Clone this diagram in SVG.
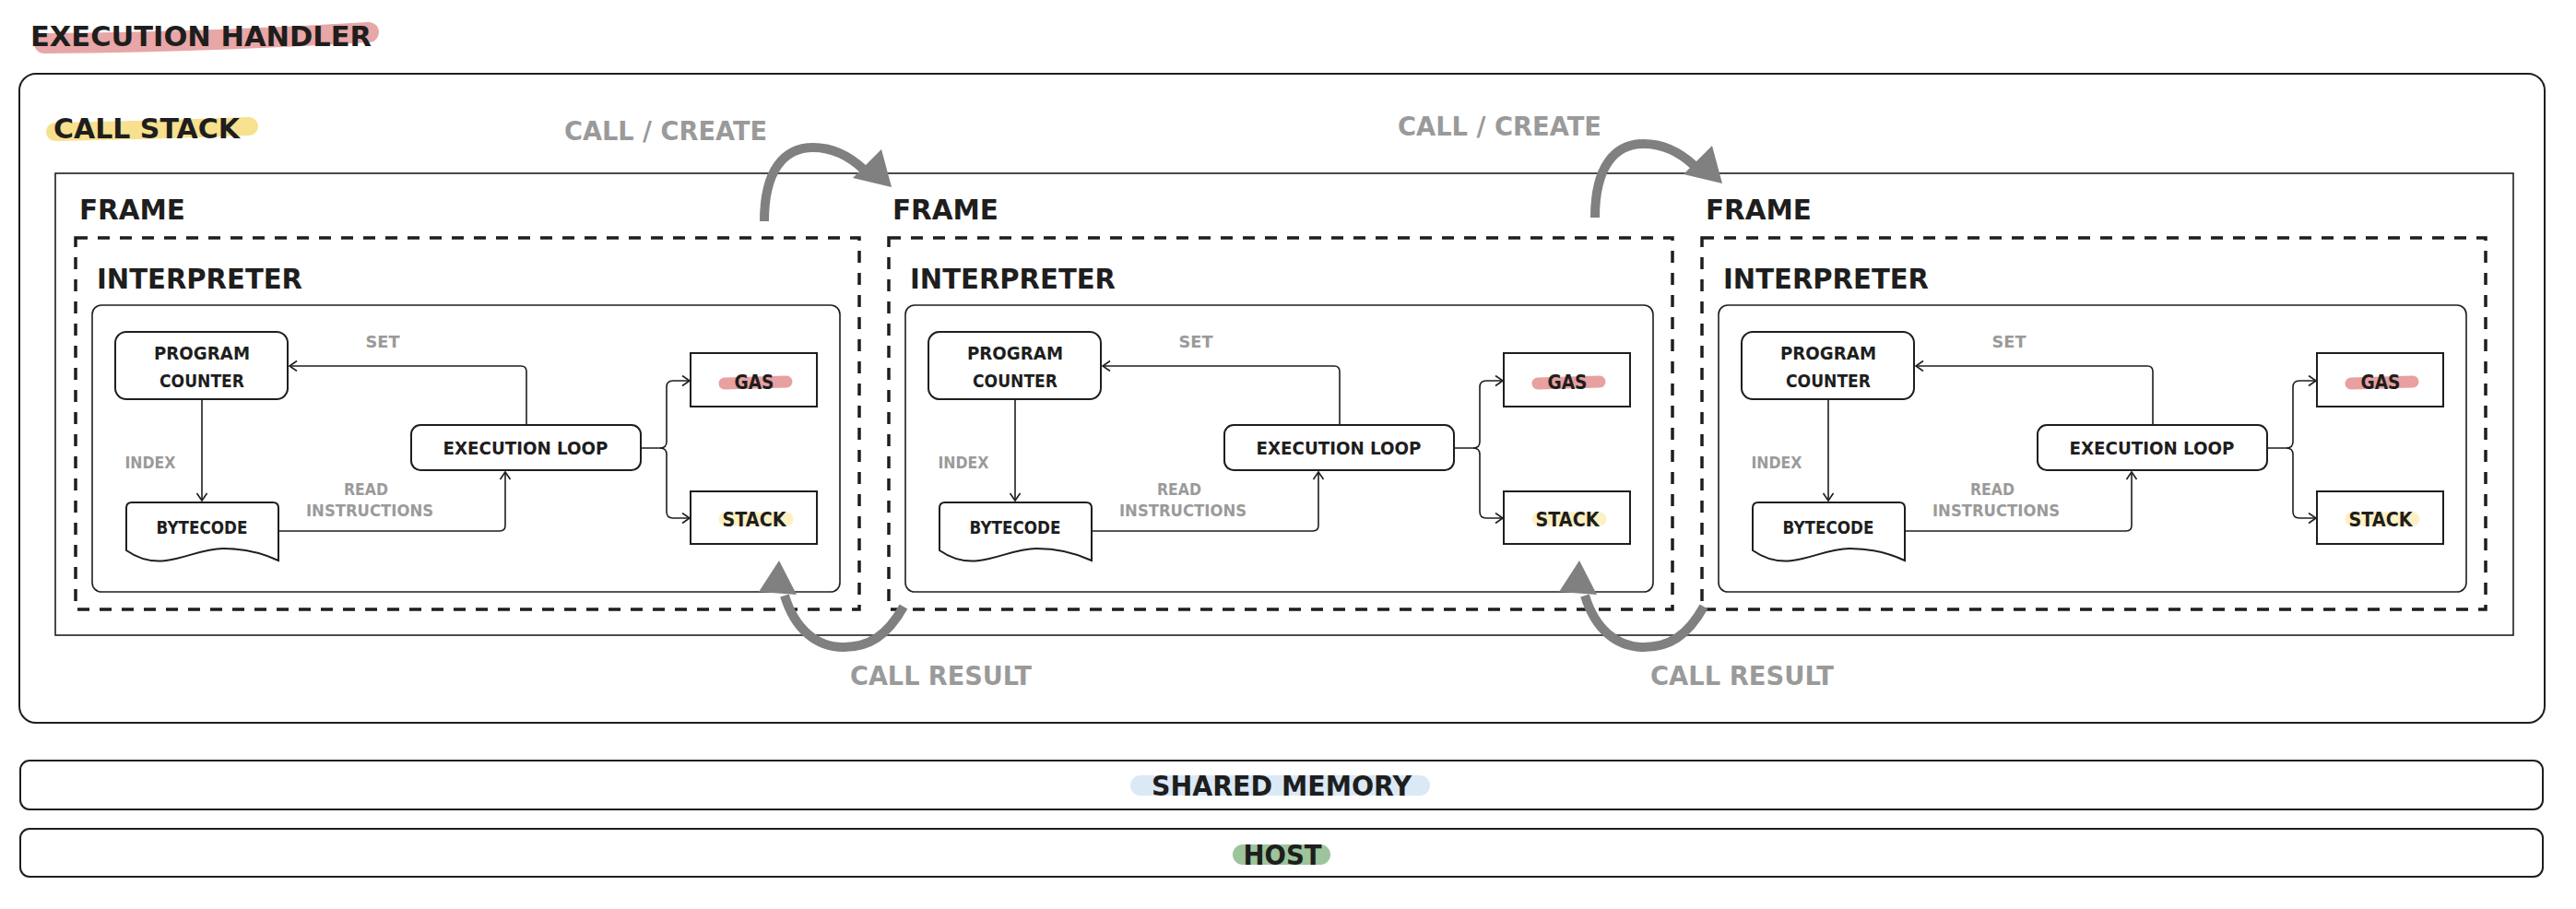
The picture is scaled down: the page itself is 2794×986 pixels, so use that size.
<svg xmlns="http://www.w3.org/2000/svg" width="2794" height="986" viewBox="0 0 2794 986">
<defs>
<style>
.t{font-family:'DejaVu Sans','Liberation Sans',sans-serif;font-weight:bold;fill:#1e1e1e}
.hd{font-size:31px}
.nd{font-size:19px}
.nb{font-size:21px}
.lb{font-size:18px;fill:#9a9a9a}
.gl{font-size:28px;fill:#9a9a9a}
.m{text-anchor:middle}
.outer{fill:none;stroke:#1e1e1e;stroke-width:2}
.box{fill:#fff;stroke:#1e1e1e;stroke-width:2}
.thin{fill:none;stroke:#1e1e1e;stroke-width:1.6}
.dash{fill:none;stroke:#1e1e1e;stroke-width:3.5;stroke-dasharray:13 11}
.conn{fill:none;stroke:#1e1e1e;stroke-width:1.6;marker-end:url(#ah)}
.big{fill:none;stroke:#808080;stroke-width:10}
.bh{fill:#808080}
.hl{fill:none;stroke-linecap:round}
</style>
<marker id="ah" markerUnits="userSpaceOnUse" markerWidth="14" markerHeight="14" refX="10" refY="6" orient="auto">
<path d="M2,0.5 L10,6 L2,11.5" fill="none" stroke="#1e1e1e" stroke-width="1.6"/>
</marker>
</defs>
<rect width="2794" height="986" fill="#fff"/>

<g id="execution-handler">
<path class="hl" d="M48,47 Q220,46 400,35" stroke="#e8a6a6" stroke-width="22"/>
<text class="t hd" x="33" y="50" textLength="370" lengthAdjust="spacingAndGlyphs">EXECUTION HANDLER</text>
<rect class="outer" x="21" y="80" width="2739" height="704" rx="18"/>
</g>

<g id="call-stack">
<path class="hl" d="M60,143 Q160,141 270,137" stroke="#f7e08e" stroke-width="20"/>
<text class="t hd" x="58" y="150" textLength="202" lengthAdjust="spacingAndGlyphs">CALL STACK</text>
<rect class="thin" x="60" y="188" width="2666" height="501"/>
</g>

<!-- Frame 1 -->
<g id="frame-1">
<text class="t hd" x="86" y="238" textLength="115" lengthAdjust="spacingAndGlyphs">FRAME</text>
<g id="interpreter-1">
<rect class="dash" x="82" y="258" width="850" height="403"/>
<text class="t hd" x="105" y="313" textLength="223" lengthAdjust="spacingAndGlyphs">INTERPRETER</text>
<rect class="thin" x="100" y="331" width="811" height="311" rx="10"/>
</g>
<g id="program-counter-1">
<rect class="box" x="125" y="360" width="187" height="73" rx="12"/>
<text class="t nd m" x="219" y="390" textLength="104" lengthAdjust="spacingAndGlyphs">PROGRAM</text>
<text class="t nd m" x="219" y="420" textLength="92" lengthAdjust="spacingAndGlyphs">COUNTER</text>
</g>
<g id="bytecode-1">
<path class="box" d="M137,551 Q137,545 143,545 L296,545 Q302,545 302,551 L302,608 C285,600 265,595 242,595 C220,595 200,606 180,608 C165,610 150,606 137,597 Z"/>
<text class="t nd m" x="219" y="579" textLength="99" lengthAdjust="spacingAndGlyphs">BYTECODE</text>
</g>
<g id="execution-loop-1">
<rect class="box" x="446" y="461" width="249" height="49" rx="10"/>
<text class="t nd m" x="570" y="493" textLength="179" lengthAdjust="spacingAndGlyphs">EXECUTION LOOP</text>
</g>
<g id="gas-1">
<rect class="box" x="749" y="383" width="137" height="58"/>
<path class="hl" d="M786,416 L853,414" stroke="#e8a0a0" stroke-width="13"/>
<text class="t nb m" x="818" y="422" textLength="43" lengthAdjust="spacingAndGlyphs">GAS</text>
</g>
<g id="stack-1">
<rect class="box" x="749" y="533" width="137" height="57"/>
<path class="hl" d="M787,563 L853,563" stroke="#fdf0c2" stroke-width="15"/>
<text class="t nb m" x="818" y="571" textLength="69" lengthAdjust="spacingAndGlyphs">STACK</text>
</g>
</g>

<!-- Frame 2 -->
<g id="frame-2" transform="translate(882,0)">
<text class="t hd" x="86" y="238" textLength="115" lengthAdjust="spacingAndGlyphs">FRAME</text>
<g id="interpreter-2">
<rect class="dash" x="82" y="258" width="850" height="403"/>
<text class="t hd" x="105" y="313" textLength="223" lengthAdjust="spacingAndGlyphs">INTERPRETER</text>
<rect class="thin" x="100" y="331" width="811" height="311" rx="10"/>
</g>
<g id="program-counter-2">
<rect class="box" x="125" y="360" width="187" height="73" rx="12"/>
<text class="t nd m" x="219" y="390" textLength="104" lengthAdjust="spacingAndGlyphs">PROGRAM</text>
<text class="t nd m" x="219" y="420" textLength="92" lengthAdjust="spacingAndGlyphs">COUNTER</text>
</g>
<g id="bytecode-2">
<path class="box" d="M137,551 Q137,545 143,545 L296,545 Q302,545 302,551 L302,608 C285,600 265,595 242,595 C220,595 200,606 180,608 C165,610 150,606 137,597 Z"/>
<text class="t nd m" x="219" y="579" textLength="99" lengthAdjust="spacingAndGlyphs">BYTECODE</text>
</g>
<g id="execution-loop-2">
<rect class="box" x="446" y="461" width="249" height="49" rx="10"/>
<text class="t nd m" x="570" y="493" textLength="179" lengthAdjust="spacingAndGlyphs">EXECUTION LOOP</text>
</g>
<g id="gas-2">
<rect class="box" x="749" y="383" width="137" height="58"/>
<path class="hl" d="M786,416 L853,414" stroke="#e8a0a0" stroke-width="13"/>
<text class="t nb m" x="818" y="422" textLength="43" lengthAdjust="spacingAndGlyphs">GAS</text>
</g>
<g id="stack-2">
<rect class="box" x="749" y="533" width="137" height="57"/>
<path class="hl" d="M787,563 L853,563" stroke="#fdf0c2" stroke-width="15"/>
<text class="t nb m" x="818" y="571" textLength="69" lengthAdjust="spacingAndGlyphs">STACK</text>
</g>
</g>

<!-- Frame 3 -->
<g id="frame-3" transform="translate(1764,0)">
<text class="t hd" x="86" y="238" textLength="115" lengthAdjust="spacingAndGlyphs">FRAME</text>
<g id="interpreter-3">
<rect class="dash" x="82" y="258" width="850" height="403"/>
<text class="t hd" x="105" y="313" textLength="223" lengthAdjust="spacingAndGlyphs">INTERPRETER</text>
<rect class="thin" x="100" y="331" width="811" height="311" rx="10"/>
</g>
<g id="program-counter-3">
<rect class="box" x="125" y="360" width="187" height="73" rx="12"/>
<text class="t nd m" x="219" y="390" textLength="104" lengthAdjust="spacingAndGlyphs">PROGRAM</text>
<text class="t nd m" x="219" y="420" textLength="92" lengthAdjust="spacingAndGlyphs">COUNTER</text>
</g>
<g id="bytecode-3">
<path class="box" d="M137,551 Q137,545 143,545 L296,545 Q302,545 302,551 L302,608 C285,600 265,595 242,595 C220,595 200,606 180,608 C165,610 150,606 137,597 Z"/>
<text class="t nd m" x="219" y="579" textLength="99" lengthAdjust="spacingAndGlyphs">BYTECODE</text>
</g>
<g id="execution-loop-3">
<rect class="box" x="446" y="461" width="249" height="49" rx="10"/>
<text class="t nd m" x="570" y="493" textLength="179" lengthAdjust="spacingAndGlyphs">EXECUTION LOOP</text>
</g>
<g id="gas-3">
<rect class="box" x="749" y="383" width="137" height="58"/>
<path class="hl" d="M786,416 L853,414" stroke="#e8a0a0" stroke-width="13"/>
<text class="t nb m" x="818" y="422" textLength="43" lengthAdjust="spacingAndGlyphs">GAS</text>
</g>
<g id="stack-3">
<rect class="box" x="749" y="533" width="137" height="57"/>
<path class="hl" d="M787,563 L853,563" stroke="#fdf0c2" stroke-width="15"/>
<text class="t nb m" x="818" y="571" textLength="69" lengthAdjust="spacingAndGlyphs">STACK</text>
</g>
</g>

<g id="shared-memory">
<rect class="outer" x="22" y="825" width="2736" height="53" rx="10"/>
<path class="hl" d="M1237,852 L1540,852" stroke="#dbe9f6" stroke-width="22"/>
<text class="t hd m" x="1390" y="863" textLength="282" lengthAdjust="spacingAndGlyphs">SHARED MEMORY</text>
</g>
<g id="host">
<rect class="outer" x="22" y="899" width="2736" height="52" rx="10"/>
<path class="hl" d="M1348,927 L1432,927" stroke="#9dc49b" stroke-width="22"/>
<text class="t hd m" x="1391" y="938" textLength="85" lengthAdjust="spacingAndGlyphs">HOST</text>
</g>

<g id="connectors">
<g id="conn-frame-1">
<path class="conn" d="M219,433 L219,543"/>
<path class="conn" d="M571,461 L571,403 Q571,397 565,397 L314,397"/>
<path class="conn" d="M302,576 L542,576 Q548,576 548,570 L548,512"/>
<path class="conn" d="M695,486 L716,486 Q723,486 723,479 L723,420 Q723,413 730,413 L748,413"/>
<path class="conn" d="M716,486 Q723,486 723,493 L723,555 Q723,562 730,562 L748,562"/>
<text class="t lb m" x="415" y="377" textLength="37" lengthAdjust="spacingAndGlyphs">SET</text>
<text class="t lb m" x="163" y="508" textLength="55" lengthAdjust="spacingAndGlyphs">INDEX</text>
<text class="t lb m" x="397" y="537" textLength="48" lengthAdjust="spacingAndGlyphs">READ</text>
<text class="t lb m" x="401" y="560" textLength="138" lengthAdjust="spacingAndGlyphs">INSTRUCTIONS</text>
</g>
<g id="conn-frame-2" transform="translate(882,0)">
<path class="conn" d="M219,433 L219,543"/>
<path class="conn" d="M571,461 L571,403 Q571,397 565,397 L314,397"/>
<path class="conn" d="M302,576 L542,576 Q548,576 548,570 L548,512"/>
<path class="conn" d="M695,486 L716,486 Q723,486 723,479 L723,420 Q723,413 730,413 L748,413"/>
<path class="conn" d="M716,486 Q723,486 723,493 L723,555 Q723,562 730,562 L748,562"/>
<text class="t lb m" x="415" y="377" textLength="37" lengthAdjust="spacingAndGlyphs">SET</text>
<text class="t lb m" x="163" y="508" textLength="55" lengthAdjust="spacingAndGlyphs">INDEX</text>
<text class="t lb m" x="397" y="537" textLength="48" lengthAdjust="spacingAndGlyphs">READ</text>
<text class="t lb m" x="401" y="560" textLength="138" lengthAdjust="spacingAndGlyphs">INSTRUCTIONS</text>
</g>
<g id="conn-frame-3" transform="translate(1764,0)">
<path class="conn" d="M219,433 L219,543"/>
<path class="conn" d="M571,461 L571,403 Q571,397 565,397 L314,397"/>
<path class="conn" d="M302,576 L542,576 Q548,576 548,570 L548,512"/>
<path class="conn" d="M695,486 L716,486 Q723,486 723,479 L723,420 Q723,413 730,413 L748,413"/>
<path class="conn" d="M716,486 Q723,486 723,493 L723,555 Q723,562 730,562 L748,562"/>
<text class="t lb m" x="415" y="377" textLength="37" lengthAdjust="spacingAndGlyphs">SET</text>
<text class="t lb m" x="163" y="508" textLength="55" lengthAdjust="spacingAndGlyphs">INDEX</text>
<text class="t lb m" x="397" y="537" textLength="48" lengthAdjust="spacingAndGlyphs">READ</text>
<text class="t lb m" x="401" y="560" textLength="138" lengthAdjust="spacingAndGlyphs">INSTRUCTIONS</text>
</g>

<g id="call-create-1">
<path class="big" d="M829,240 C829,185 850,160 882,160 C905,160 922,170 937,184"/>
<polygon class="bh" points="925,193 956,162 967,203"/>
<text class="t gl" x="612" y="152" textLength="220" lengthAdjust="spacingAndGlyphs">CALL / CREATE</text>
</g>
<g id="call-create-2" transform="translate(901,-4)">
<path class="big" d="M829,240 C829,185 850,160 882,160 C905,160 922,170 937,184"/>
<polygon class="bh" points="925,193 956,162 967,203"/>
<text class="t gl" x="615" y="151" textLength="221" lengthAdjust="spacingAndGlyphs">CALL / CREATE</text>
</g>
<g id="call-result-1">
<path class="big" d="M980,658 C962,690 942,702 915,702 C885,702 862,682 851,646"/>
<polygon class="bh" points="845,608 823,642 864,645"/>
<text class="t gl" x="922" y="743" textLength="197" lengthAdjust="spacingAndGlyphs">CALL RESULT</text>
</g>
<g id="call-result-2" transform="translate(868,0)">
<path class="big" d="M980,658 C962,690 942,702 915,702 C885,702 862,682 851,646"/>
<polygon class="bh" points="845,608 823,642 864,645"/>
<text class="t gl" x="922" y="743" textLength="199" lengthAdjust="spacingAndGlyphs">CALL RESULT</text>
</g>
</g>
</svg>
